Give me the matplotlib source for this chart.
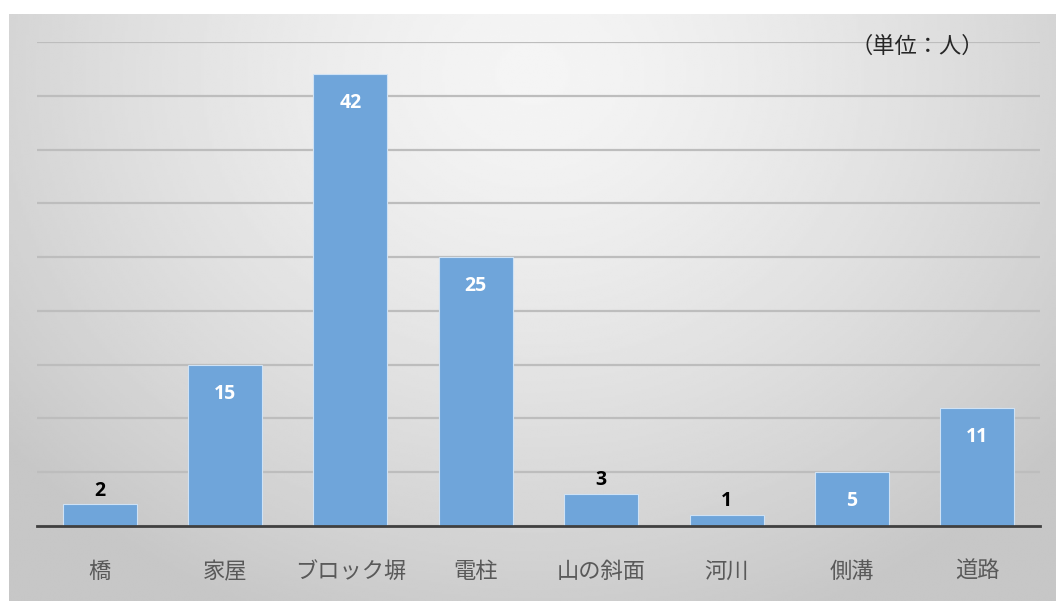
import numpy as np
import matplotlib
matplotlib.use("Agg")
import matplotlib.pyplot as plt

plt.rcParams["font.family"] = ["Noto Sans CJK JP", "DejaVu Sans"]

categories = ["橋", "家屋", "ブロック塀", "電柱", "山の斜面", "河川", "側溝", "道路"]
values = [2, 15, 42, 25, 3, 1, 5, 11]
unit_label = "（単位：人）"

W, H = 1056, 601
fig = plt.figure(figsize=(W / 100, H / 100), dpi=100)
fig.patch.set_facecolor("white")

# ---- background panel with radial gray gradient ----
bg = fig.add_axes([9 / W, 0, (W - 9) / W, (H - 14) / H])
u, v = np.meshgrid(np.linspace(0, 1, 400), np.linspace(0, 1, 300))
d = np.sqrt(((u - 0.5) / 0.65) ** 2 + ((v - 0.1) / 1.0) ** 2)
shade = 0.96 - (0.96 - 0.78) * np.clip(d, 0, 1) ** 1.4
bg.imshow(shade, cmap="gray", vmin=0, vmax=1, aspect="auto",
          extent=[0, 1, 1, 0], interpolation="bilinear")
bg.axis("off")

# ---- main chart ----
ax = fig.add_axes([37 / W, (H - 526) / H, 1003 / W, (526 - 42) / H])
ax.patch.set_alpha(0)
x = np.arange(len(categories))
ax.bar(x, values, width=0.59, color="#6fa5da", edgecolor="#cfe2f5",
       linewidth=0.8, zorder=3)

ax.set_xlim(-0.5, len(categories) - 0.5)
ax.set_ylim(0, 45)
ax.set_yticks(np.arange(0, 46, 5))
ax.yaxis.grid(True, color="#bdbdbd", linewidth=1.6, zorder=1)
ax.set_axisbelow(True)
ax.tick_params(axis="y", left=False, labelleft=False)
ax.tick_params(axis="x", bottom=False, pad=21, labelsize=16, labelcolor="#595959")
ax.set_xticks(x)
ax.set_xticklabels(categories)
for s in ["top", "right", "left"]:
    ax.spines[s].set_visible(False)
ax.spines["bottom"].set_color("#404040")
ax.spines["bottom"].set_linewidth(2)
ax.spines["bottom"].set_zorder(4)

num_font = ["Open Sans", "DejaVu Sans"]
for xi, val in zip(x, values):
    if val >= 5:
        ax.annotate(str(val), (xi, val), xytext=(0, -21), textcoords="offset points",
                    ha="center", va="center", color="white", fontsize=14,
                    fontweight="bold", family=num_font, zorder=5)
    else:
        ax.annotate(str(val), (xi, val), xytext=(0, 10), textcoords="offset points",
                    ha="center", va="center", color="black", fontsize=14,
                    fontweight="bold", family=num_font, zorder=5)

fig.text(917 / W, 1 - 46 / H, unit_label, ha="center", va="center",
         fontsize=16, color="#262626")

fig.savefig("out.png", dpi=100)
